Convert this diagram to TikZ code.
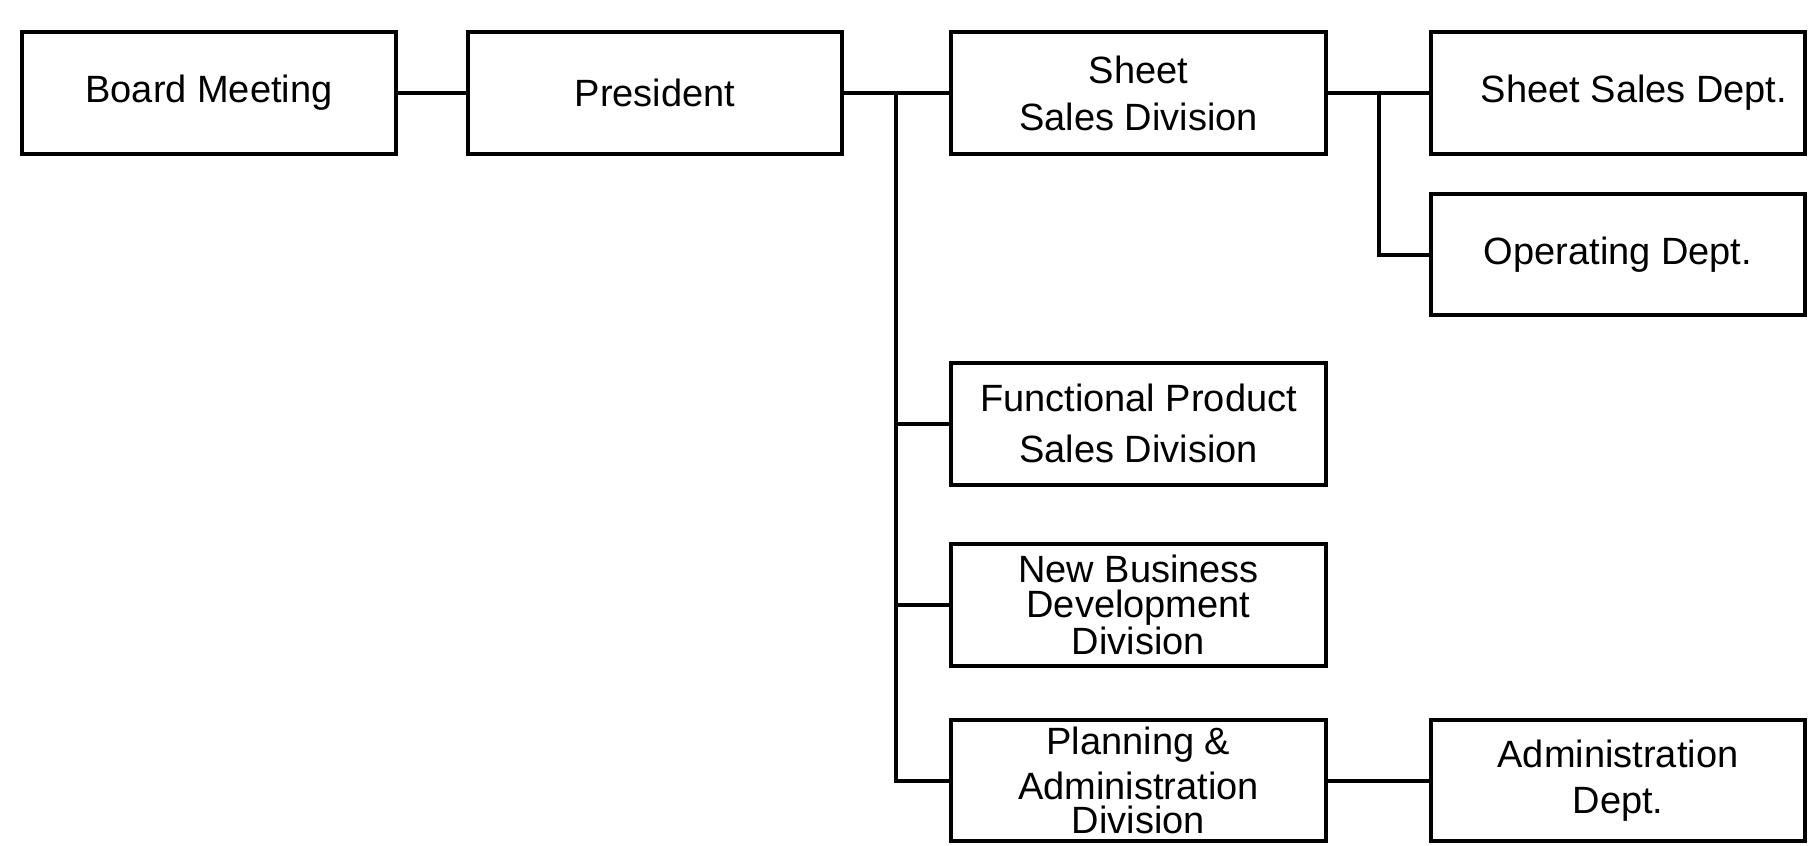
\documentclass[tikz,border=0pt]{standalone}
\usepackage{fontspec}
\setmainfont{Liberation Sans}
\begin{document}
\begin{tikzpicture}[x=0.5pt,y=-0.5pt,
  orgbox/.style={draw, line width=2pt, minimum width=187.4pt, minimum height=60.8pt,
    inner sep=0pt, align=center, font=\fontsize{19}{23.5}\selectfont},
  link/.style={line width=2pt}]
\useasboundingbox (0,0) rectangle (1810,846);
\node[orgbox] (board) at (209,93) {Board Meeting};
\node[orgbox] (pres) at (655,93) {President};
\node[orgbox] (ssd) at (1138.5,93) {Sheet\\Sales Division};
\node[orgbox] (ssdept) at (1618,93) {\hspace*{16pt}Sheet Sales Dept.};
\node[orgbox] (op) at (1618,254.5) {Operating Dept.};
\node[orgbox, font=\fontsize{19}{25.5}\selectfont] (fps) at (1138.5,423.7) {Functional Product\\Sales Division};
\node[orgbox, font=\fontsize{19}{17.5}\selectfont] (nbd) at (1138.5,605) {New Business\\Development\\Division};
\node[orgbox, font=\fontsize{19}{17}\selectfont] (pad) at (1138.5,780.5) {Planning \&\\[4pt]Administration\\Division};
\node[orgbox, font=\fontsize{19}{23}\selectfont] (adm) at (1618,780.5) {Administration\\Dept.};
\coordinate (tr) at (896,93);
\coordinate (br) at (1379,93);
\draw[link] (board.east) -- (pres.west);
\draw[link] (pres.east) -- (ssd.west);
\draw[link] (tr) |- (pad.west);
\draw[link] (tr |- fps.west) -- (fps.west);
\draw[link] (tr |- nbd.west) -- (nbd.west);
\draw[link] (ssd.east) -- (ssdept.west);
\draw[link] (br) |- (op.west);
\draw[link] (pad.east) -- (adm.west);
\end{tikzpicture}
\end{document}
